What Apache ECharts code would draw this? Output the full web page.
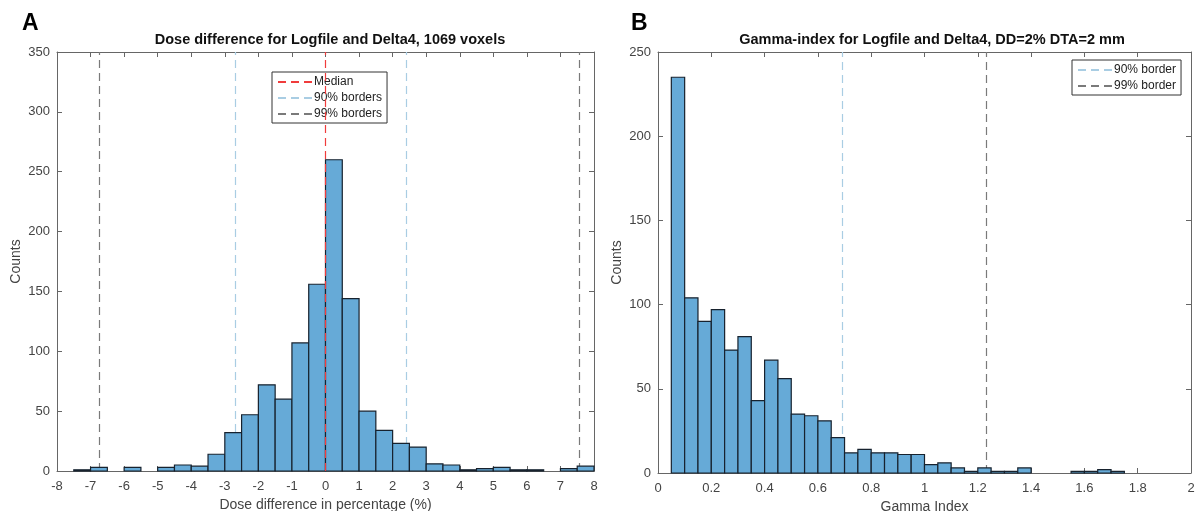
<!DOCTYPE html>
<html>
<head>
<meta charset="utf-8">
<script src="https://cdn.jsdelivr.net/npm/echarts@6/dist/echarts.min.js"></script>
<style>
  html, body { margin: 0; padding: 0; background: #fff; }
  #main { width: 1195px; height: 511px; }
</style>
</head>
<body>
<div id="main"></div>
<script>
// panel A: dose difference histogram (bin left edges, width 0.5)
var doseBins = [-7.5,-7,-6.5,-6,-5.5,-5,-4.5,-4,-3.5,-3,-2.5,-2,-1.5,-1,-0.5,0,0.5,1,1.5,2,2.5,3,3.5,4,4.5,5,5.5,6,6.5,7,7.5];
var doseCounts = [1,3,0,3,0,3,5,4,14,32,47,72,60,107,156,260,144,50,34,23,20,6,5,1,2,3,1,1,0,2,4];
var doseWidth = 0.5;
var doseMedian = 0;
var dose90 = [-2.7, 2.4];
var dose99 = [-6.75, 7.55];

// panel B: gamma index histogram (bin left edges, width 0.05)
var gammaBins = [0.05,0.1,0.15,0.2,0.25,0.3,0.35,0.4,0.45,0.5,0.55,0.6,0.65,0.7,0.75,0.8,0.85,0.9,0.95,1.0,1.05,1.1,1.15,1.2,1.25,1.3,1.35,1.4,1.45,1.5,1.55,1.6,1.65,1.7];
var gammaCounts = [235,104,90,97,73,81,43,67,56,35,34,31,21,12,14,12,12,11,11,5,6,3,1,3,1,1,3,0,0,0,1,1,2,1];
var gammaWidth = 0.05;
var gamma90 = 0.69;
var gamma99 = 1.225;

var barFill = '#66aad7';
var barEdge = '#17222e';
var axisCol = '#666';
var textCol = '#444';
var font = 'Liberation Sans, Arial, sans-serif';

function histData(bins, counts, w) {
  return bins.map(function (b, i) { return [b, counts[i], b + w]; });
}

function renderBar(params, api) {
  var c = api.value(1);
  if (!c) return null;
  var p0 = api.coord([api.value(0), 0]);
  var p1 = api.coord([api.value(2), c]);
  return {
    type: 'rect',
    shape: { x: p0[0], y: p1[1], width: p1[0] - p0[0], height: p0[1] - p1[1] },
    style: { fill: barFill, stroke: barEdge, lineWidth: 1.2 }
  };
}

function xAx(gi, min, max, interval, name, top) {
  return {
    type: 'value', gridIndex: gi, min: min, max: max, interval: interval,
    position: top ? 'top' : 'bottom',
    name: top ? '' : name, nameLocation: 'middle', nameGap: 25,
    nameTextStyle: { color: textCol, fontSize: 14, fontFamily: font },
    axisLine: { show: true, onZero: false, lineStyle: { color: axisCol } },
    axisTick: { show: true, inside: true, length: 5, lineStyle: { color: axisCol } },
    axisLabel: { show: !top, color: textCol, fontSize: 13, fontFamily: font, margin: 9 },
    splitLine: { show: false }
  };
}

function yAx(gi, max, right) {
  return {
    type: 'value', gridIndex: gi, min: 0, max: max, interval: 50,
    position: right ? 'right' : 'left',
    name: right ? '' : 'Counts', nameLocation: 'middle', nameGap: 34,
    nameTextStyle: { color: textCol, fontSize: 14, fontFamily: font },
    axisLine: { show: true, onZero: false, lineStyle: { color: axisCol } },
    axisTick: { show: true, inside: true, length: 5, lineStyle: { color: axisCol } },
    axisLabel: { show: !right, color: textCol, fontSize: 13, fontFamily: font, margin: 7 },
    splitLine: { show: false }
  };
}

function vLines(name, xi, yi, xs, color, z) {
  return {
    name: name, type: 'line', xAxisIndex: xi, yAxisIndex: yi, z: z,
    data: [], symbol: 'none',
    lineStyle: { color: color, type: [8, 5], width: 1.2 },
    itemStyle: { color: color },
    markLine: {
      silent: true, symbol: 'none', label: { show: false }, z: z,
      lineStyle: { color: color, type: [8, 5], width: 1.2 },
      data: xs.map(function (x) { return { xAxis: x }; })
    }
  };
}

var legendBase = {
  orient: 'vertical', padding: [4, 5, 3, 5], itemGap: 4,
  itemWidth: 36, itemHeight: 10,
  backgroundColor: '#fff', borderColor: '#333', borderWidth: 1, borderRadius: 0,
  itemStyle: { color: 'rgba(0,0,0,0)', borderWidth: 0, opacity: 0 },
  textStyle: { color: '#222', fontSize: 12, fontFamily: font, padding: [0, 0, 0, -5] }
};

var chart = echarts.init(document.getElementById('main'));
chart.setOption({
  animation: false,
  title: [
    { text: 'A', left: 17, top: 7, textStyle: { fontSize: 23, fontWeight: 'bold', color: '#000', fontFamily: font } },
    { text: 'B', left: 626, top: 7, textStyle: { fontSize: 23, fontWeight: 'bold', color: '#000', fontFamily: font } }
  ],
  graphic: [
    { type: 'text', x: 330, y: 32, style: { text: 'Dose difference for Logfile and Delta4, 1069 voxels', textAlign: 'center', fill: '#111', font: 'bold 14.5px ' + font } },
    { type: 'text', x: 932, y: 32, style: { text: 'Gamma-index for Logfile and Delta4, DD=2% DTA=2 mm', textAlign: 'center', fill: '#111', font: 'bold 14.5px ' + font } }
  ],
  legend: [
    Object.assign({}, legendBase, { data: ['Median', '90% borders', '99% borders'], left: 272, top: 72 }),
    Object.assign({}, legendBase, { data: ['90% border', '99% border'], left: 1072, top: 60 })
  ],
  grid: [
    { left: 57, right: 601, top: 52, bottom: 40, outerBoundsMode: 'none' },
    { left: 658, right: 4, top: 52, bottom: 38, outerBoundsMode: 'none' }
  ],
  xAxis: [
    xAx(0, -8, 8, 1, 'Dose difference in percentage (%)', false),
    xAx(0, -8, 8, 1, '', true),
    xAx(1, 0, 2, 0.2, 'Gamma Index', false),
    xAx(1, 0, 2, 0.2, '', true)
  ],
  yAxis: [
    yAx(0, 350, false),
    yAx(0, 350, true),
    yAx(1, 250, false),
    yAx(1, 250, true)
  ],
  series: [
    vLines('90% borders', 0, 0, dose90, '#a9cde3', 1),
    vLines('99% borders', 0, 0, dose99, '#7a7a7a', 1),
    {
      type: 'custom', xAxisIndex: 0, yAxisIndex: 0, z: 2,
      renderItem: renderBar, encode: { x: [0, 2], y: 1 },
      data: histData(doseBins, doseCounts, doseWidth)
    },
    vLines('Median', 0, 0, [doseMedian], '#f03c3c', 5),
    vLines('90% border', 2, 2, [gamma90], '#a9cde3', 1),
    vLines('99% border', 2, 2, [gamma99], '#7a7a7a', 1),
    {
      type: 'custom', xAxisIndex: 2, yAxisIndex: 2, z: 2,
      renderItem: renderBar, encode: { x: [0, 2], y: 1 },
      data: histData(gammaBins, gammaCounts, gammaWidth)
    }
  ]
});
</script>
</body>
</html>
